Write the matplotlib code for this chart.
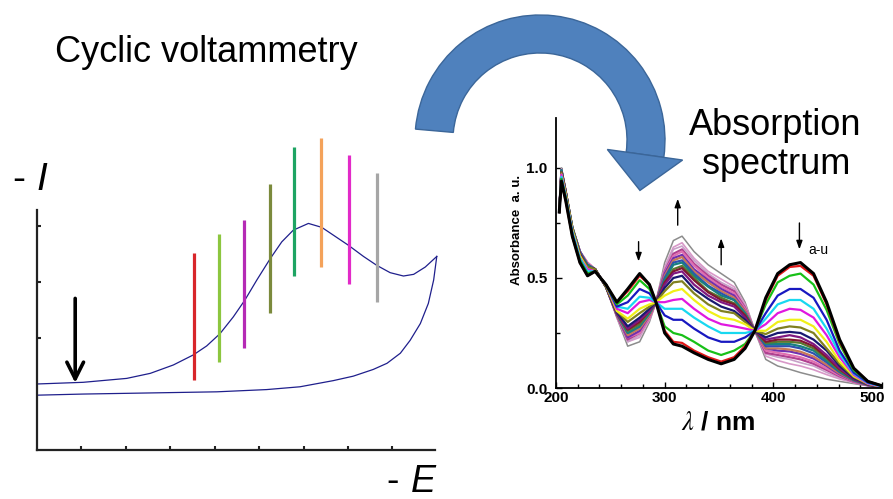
import numpy as np
import matplotlib.pyplot as plt
import matplotlib.transforms as mtransforms
from matplotlib.patches import Wedge, Polygon
from matplotlib.ticker import MultipleLocator

plt.rcParams['font.family'] = ['Liberation Sans', 'DejaVu Sans']
plt.rcParams['mathtext.fontset'] = 'stix'

# -----------------------------------------------------------------------------
# cyclic voltammogram (arbitrary units)
cv_fwd_E = [0.00, 1.04, 2.02, 2.55, 3.07, 3.52, 3.82, 4.12, 4.42, 4.68, 4.95, 5.25,
            5.51, 5.77, 6.11, 6.41, 6.71, 7.01, 7.35, 7.65, 7.95, 8.25, 8.48, 8.74, 9.00]
cv_fwd_I = [1.18, 1.21, 1.28, 1.37, 1.52, 1.70, 1.86, 2.08, 2.38, 2.68, 3.04, 3.42,
            3.72, 3.93, 4.05, 3.98, 3.82, 3.66, 3.46, 3.30, 3.17, 3.11, 3.14, 3.27, 3.46]
cv_rev_E = [9.00, 8.93, 8.81, 8.63, 8.40, 8.18, 7.88, 7.57, 7.12, 6.67, 5.92, 5.17,
            4.05, 2.55, 1.04, 0.00]
cv_rev_I = [3.46, 3.04, 2.62, 2.26, 1.96, 1.73, 1.55, 1.44, 1.32, 1.24, 1.13, 1.08,
            1.04, 1.02, 1.00, 0.98]

# potentials where the spectra were recorded (coloured bars)
bar_E = [3.54, 4.10, 4.66, 5.25, 5.79, 6.40, 7.03, 7.66]
bar_lo = [1.25, 1.57, 1.82, 2.45, 3.11, 3.27, 2.96, 2.64]
bar_hi = [3.52, 3.86, 4.11, 4.75, 5.41, 5.57, 5.27, 4.95]
bar_colors = ['#d8262a', '#8cc63f', '#b52ab5', '#7b8a3c', '#1ea463', '#f4a25a',
              '#e22ac8', '#a6a6a6']

# -----------------------------------------------------------------------------
# absorption spectra a - u
wl = [203, 205, 209, 215, 222, 229, 236, 246, 256, 266, 277, 286, 292, 300, 308, 316,
      327, 340, 352, 364, 374, 383, 393, 404, 415, 425, 437, 449, 461, 474, 487, 500]
absorb = [
    [0.80, 0.94, 0.85, 0.69, 0.57, 0.51, 0.53, 0.47, 0.39, 0.45, 0.52, 0.47, 0.39, 0.25, 0.20, 0.19,
     0.16, 0.13, 0.11, 0.13, 0.18, 0.26, 0.41, 0.52, 0.56, 0.57, 0.52, 0.39, 0.22, 0.09, 0.03, 0.01],
    [0.80, 0.94, 0.85, 0.69, 0.57, 0.51, 0.53, 0.47, 0.39, 0.44, 0.51, 0.47, 0.39, 0.26, 0.21, 0.205,
     0.17, 0.14, 0.12, 0.14, 0.19, 0.26, 0.40, 0.51, 0.55, 0.555, 0.51, 0.38, 0.21, 0.09, 0.03, 0.01],
    [0.80, 0.95, 0.86, 0.69, 0.58, 0.52, 0.53, 0.47, 0.38, 0.42, 0.49, 0.45, 0.39, 0.28, 0.25, 0.24,
     0.21, 0.17, 0.15, 0.17, 0.20, 0.26, 0.38, 0.48, 0.51, 0.52, 0.47, 0.355, 0.20, 0.08, 0.03, 0.01],
    [0.80, 0.95, 0.86, 0.70, 0.58, 0.52, 0.53, 0.47, 0.37, 0.39, 0.45, 0.43, 0.39, 0.33, 0.31, 0.31,
     0.27, 0.23, 0.21, 0.21, 0.23, 0.26, 0.34, 0.42, 0.45, 0.45, 0.41, 0.31, 0.17, 0.07, 0.025, 0.01],
    [0.80, 0.96, 0.87, 0.71, 0.59, 0.53, 0.53, 0.47, 0.37, 0.36, 0.415, 0.41, 0.39, 0.36, 0.36, 0.36,
     0.32, 0.28, 0.25, 0.25, 0.25, 0.26, 0.315, 0.38, 0.40, 0.40, 0.36, 0.27, 0.155, 0.066, 0.023, 0.007],
    [0.80, 0.97, 0.87, 0.71, 0.59, 0.54, 0.53, 0.47, 0.36, 0.34, 0.39, 0.40, 0.39, 0.39, 0.40, 0.405,
     0.36, 0.315, 0.29, 0.28, 0.27, 0.26, 0.29, 0.34, 0.36, 0.355, 0.32, 0.24, 0.14, 0.06, 0.02, 0.006],
    [0.80, 0.97, 0.88, 0.72, 0.60, 0.54, 0.53, 0.47, 0.35, 0.315, 0.36, 0.38, 0.39, 0.42, 0.44, 0.45,
     0.40, 0.35, 0.32, 0.31, 0.29, 0.26, 0.26, 0.30, 0.31, 0.31, 0.28, 0.21, 0.12, 0.054, 0.02, 0.005],
    [0.80, 0.98, 0.88, 0.72, 0.60, 0.55, 0.54, 0.46, 0.35, 0.30, 0.34, 0.37, 0.39, 0.44, 0.48, 0.485,
     0.43, 0.38, 0.35, 0.34, 0.30, 0.26, 0.245, 0.27, 0.28, 0.275, 0.25, 0.18, 0.11, 0.05, 0.018, 0.004],
    [0.80, 0.98, 0.88, 0.72, 0.60, 0.55, 0.54, 0.46, 0.345, 0.28, 0.32, 0.36, 0.39, 0.455, 0.50, 0.51,
     0.45, 0.405, 0.37, 0.35, 0.31, 0.26, 0.23, 0.25, 0.255, 0.25, 0.22, 0.17, 0.10, 0.045, 0.017, 0.004],
    [0.80, 0.98, 0.88, 0.72, 0.60, 0.55, 0.54, 0.46, 0.34, 0.27, 0.31, 0.35, 0.39, 0.47, 0.52, 0.53,
     0.47, 0.42, 0.39, 0.37, 0.32, 0.26, 0.22, 0.23, 0.24, 0.23, 0.20, 0.15, 0.09, 0.042, 0.016, 0.003],
    [0.80, 0.98, 0.89, 0.72, 0.61, 0.55, 0.54, 0.46, 0.34, 0.265, 0.30, 0.35, 0.39, 0.48, 0.53, 0.545,
     0.49, 0.435, 0.40, 0.38, 0.33, 0.26, 0.21, 0.22, 0.22, 0.215, 0.19, 0.14, 0.085, 0.04, 0.016, 0.003],
    [0.80, 0.98, 0.89, 0.73, 0.61, 0.55, 0.54, 0.46, 0.34, 0.26, 0.29, 0.35, 0.39, 0.48, 0.54, 0.555,
     0.50, 0.44, 0.41, 0.385, 0.33, 0.26, 0.205, 0.21, 0.21, 0.205, 0.18, 0.134, 0.08, 0.04, 0.015, 0.003],
    [0.80, 0.99, 0.89, 0.73, 0.61, 0.56, 0.54, 0.46, 0.34, 0.25, 0.28, 0.34, 0.39, 0.49, 0.56, 0.57,
     0.51, 0.46, 0.42, 0.40, 0.34, 0.26, 0.20, 0.20, 0.20, 0.19, 0.17, 0.124, 0.076, 0.037, 0.015, 0.002],
    [0.80, 0.99, 0.89, 0.73, 0.62, 0.56, 0.54, 0.46, 0.335, 0.25, 0.28, 0.34, 0.39, 0.50, 0.57, 0.58,
     0.52, 0.465, 0.43, 0.40, 0.34, 0.26, 0.19, 0.19, 0.19, 0.18, 0.157, 0.117, 0.072, 0.035, 0.014, 0.002],
    [0.80, 0.99, 0.89, 0.73, 0.62, 0.56, 0.54, 0.46, 0.33, 0.24, 0.27, 0.33, 0.39, 0.51, 0.58, 0.595,
     0.53, 0.48, 0.44, 0.41, 0.35, 0.26, 0.18, 0.18, 0.175, 0.165, 0.143, 0.106, 0.066, 0.033, 0.014, 0.002],
    [0.80, 0.99, 0.89, 0.73, 0.62, 0.56, 0.54, 0.46, 0.33, 0.23, 0.26, 0.33, 0.39, 0.52, 0.59, 0.605,
     0.54, 0.49, 0.45, 0.42, 0.35, 0.26, 0.18, 0.17, 0.166, 0.155, 0.134, 0.10, 0.062, 0.032, 0.013, 0.002],
    [0.80, 0.99, 0.89, 0.73, 0.62, 0.57, 0.54, 0.46, 0.33, 0.23, 0.25, 0.32, 0.39, 0.525, 0.60, 0.62,
     0.556, 0.50, 0.46, 0.43, 0.36, 0.26, 0.17, 0.16, 0.15, 0.14, 0.12, 0.089, 0.057, 0.03, 0.013, 0.001],
    [0.80, 0.99, 0.89, 0.73, 0.62, 0.56, 0.54, 0.46, 0.33, 0.22, 0.25, 0.32, 0.39, 0.53, 0.61, 0.63,
     0.565, 0.51, 0.47, 0.44, 0.365, 0.26, 0.16, 0.15, 0.14, 0.13, 0.11, 0.082, 0.053, 0.028, 0.012, 0.001],
    [0.80, 0.995, 0.90, 0.73, 0.62, 0.57, 0.54, 0.46, 0.33, 0.21, 0.24, 0.315, 0.39, 0.54, 0.63, 0.645,
     0.58, 0.52, 0.48, 0.45, 0.37, 0.26, 0.155, 0.14, 0.13, 0.115, 0.10, 0.071, 0.047, 0.026, 0.012, 0.001],
    [0.80, 0.995, 0.90, 0.73, 0.62, 0.57, 0.54, 0.46, 0.32, 0.21, 0.23, 0.31, 0.39, 0.55, 0.64, 0.66,
     0.59, 0.53, 0.495, 0.46, 0.38, 0.26, 0.145, 0.125, 0.11, 0.10, 0.083, 0.061, 0.041, 0.024, 0.011, 0.001],
    [0.80, 1.00, 0.90, 0.73, 0.62, 0.57, 0.54, 0.46, 0.32, 0.19, 0.21, 0.30, 0.39, 0.57, 0.67, 0.69,
     0.62, 0.56, 0.52, 0.48, 0.39, 0.26, 0.13, 0.10, 0.085, 0.07, 0.055, 0.04, 0.03, 0.02, 0.01, 0.00],
]
spec_colors = ['#000000', '#e01818', '#18c018', '#1818c0', '#18d8f0', '#e018e0', '#f0f018',
               '#808020', '#181870', '#801880', '#801830', '#5a7a30', '#188080', '#3050b0',
               '#c87858', '#7030b0', '#e070b0', '#b04090', '#c8a0c8', '#d898c8', '#8c8c8c']
spec_lw = [2.2] + [1.6] * 17 + [1.2, 1.2, 1.1]

# -----------------------------------------------------------------------------
W, H = 893, 499
fig = plt.figure(figsize=(W / 100, H / 100), dpi=100, facecolor='w')

# cyclic voltammetry panel
ax = fig.add_axes([37 / W, 1 - 450 / H, 398 / W, 240 / H])
ax.patch.set_alpha(0)
ax.spines['right'].set_color('none')
ax.spines['top'].set_color('none')
for s in ['left', 'bottom']:
    ax.spines[s].set_linewidth(1.6)
    ax.spines[s].set_color('#222222')
ax.set_xlim(0, 8.96)
ax.set_ylim(0, 4.29)
ax.set_xticks(np.arange(1, 9))
ax.set_yticks([2, 3, 4])
ax.set_xticklabels([])
ax.set_yticklabels([])
ax.tick_params(direction='in', length=3, width=1.5, color='#222222')

ax.plot(cv_fwd_E, cv_fwd_I, c='#1f1f8c', lw=0.9, clip_on=False)
ax.plot(cv_rev_E, cv_rev_I, c='#1f1f8c', lw=0.9, clip_on=False)
ax.vlines(bar_E, bar_lo, bar_hi, colors=bar_colors, lw=2.3, clip_on=False, zorder=3)
ax.annotate('', xy=(0.86, 1.20), xytext=(0.86, 2.71),
            arrowprops=dict(arrowstyle='->,head_length=1.2,head_width=0.6',
                            lw=2.6, color='k', shrinkA=0, shrinkB=0))

# absorption panel
ax = fig.add_axes([556 / W, 1 - 388 / H, 326 / W, 270 / H])
ax.patch.set_alpha(0)
ax.spines['right'].set_color('none')
ax.spines['top'].set_color('none')
for s in ['left', 'bottom']:
    ax.spines[s].set_linewidth(1.3)
for i in reversed(range(len(absorb))):
    ax.plot(wl, absorb[i], c=spec_colors[i], lw=spec_lw[i], solid_joinstyle='round')
ax.set_xlim(200, 500)
ax.set_ylim(0, 1.227)
ax.set_xticks([200, 300, 400, 500])
ax.xaxis.set_minor_locator(MultipleLocator(20))
ax.set_yticks([0, 0.5, 1.0])
ax.set_yticklabels(['0.0', '0.5', '1.0'])
ax.yaxis.set_minor_locator(MultipleLocator(0.25))
ax.tick_params(which='both', direction='in', width=1)
ax.tick_params(which='major', length=4)
ax.tick_params(which='minor', length=3)
ax.tick_params(axis='x', pad=2)
ax.tick_params(axis='y', pad=6)
for lab in ax.get_xticklabels() + ax.get_yticklabels():
    lab.set_fontweight('bold')
    lab.set_fontsize(11)
# keep the last label inside the picture
last = ax.get_xticklabels()[-1]
last.set_transform(last.get_transform() +
                   mtransforms.ScaledTranslation(-7 / 72, 0, fig.dpi_scale_trans))
ax.set_xlabel(r'$\lambda$ / nm', fontsize=19, fontweight='bold')
ax.xaxis.set_label_coords(0.497, -0.085)
ax.set_ylabel('Absorbance  a. u.', fontsize=9.5, fontweight='bold')
ax.yaxis.set_label_coords(-0.10, 0.585)

arrow_kw = dict(arrowstyle='-|>,head_length=0.5,head_width=0.18', lw=1, color='k',
                shrinkA=0, shrinkB=0)
ax.annotate('', xy=(276, 0.575), xytext=(276, 0.665), arrowprops=arrow_kw)
ax.annotate('', xy=(312, 0.86), xytext=(312, 0.74), arrowprops=arrow_kw)
ax.annotate('', xy=(352, 0.68), xytext=(352, 0.56), arrowprops=arrow_kw)
ax.annotate('', xy=(424, 0.63), xytext=(424, 0.75), arrowprops=arrow_kw)
ax.text(432, 0.625, 'a-u', fontsize=10, ha='left', va='center')

# overlay in pixel coordinates: curved arrow and titles
ov = fig.add_axes([0, 0, 1, 1], facecolor='none')
ov.set_xlim(0, W)
ov.set_ylim(H, 0)
ov.axis('off')

cx, cy, r_out, r_in = 540, 140, 125, 87
t_end = 368
ov.add_patch(Wedge((cx, cy), r_out, 185, t_end, width=r_out - r_in,
                   fc='#4f81bd', ec='#3b6699', lw=1))
th = np.radians(t_end)
rad = np.array([np.cos(th), np.sin(th)])
tang = np.array([-np.sin(th), np.cos(th)])
mid = np.array([cx, cy]) + 0.5 * (r_out + r_in) * rad
head = [np.array([cx, cy]) + 68 * rad, np.array([cx, cy]) + 144 * rad, mid + 36 * tang]
ov.add_patch(Polygon(head, closed=True, fc='#4f81bd', ec='#3b6699', lw=1))

ov.text(55, 62, 'Cyclic voltammetry', fontsize=26, ha='left', va='baseline')
ov.text(12, 190, '-', fontsize=28, ha='left', va='baseline')
ov.text(36, 190, 'I', fontsize=28, style='italic', ha='left', va='baseline')
ov.text(386, 492, '-', fontsize=27, ha='left', va='baseline')
ov.text(411, 492, 'E', fontsize=27, style='italic', ha='left', va='baseline')
ov.text(775, 135, 'Absorption', fontsize=26, ha='center', va='baseline')
ov.text(776, 174, 'spectrum', fontsize=26, ha='center', va='baseline')

plt.savefig('out.png', dpi=100)
